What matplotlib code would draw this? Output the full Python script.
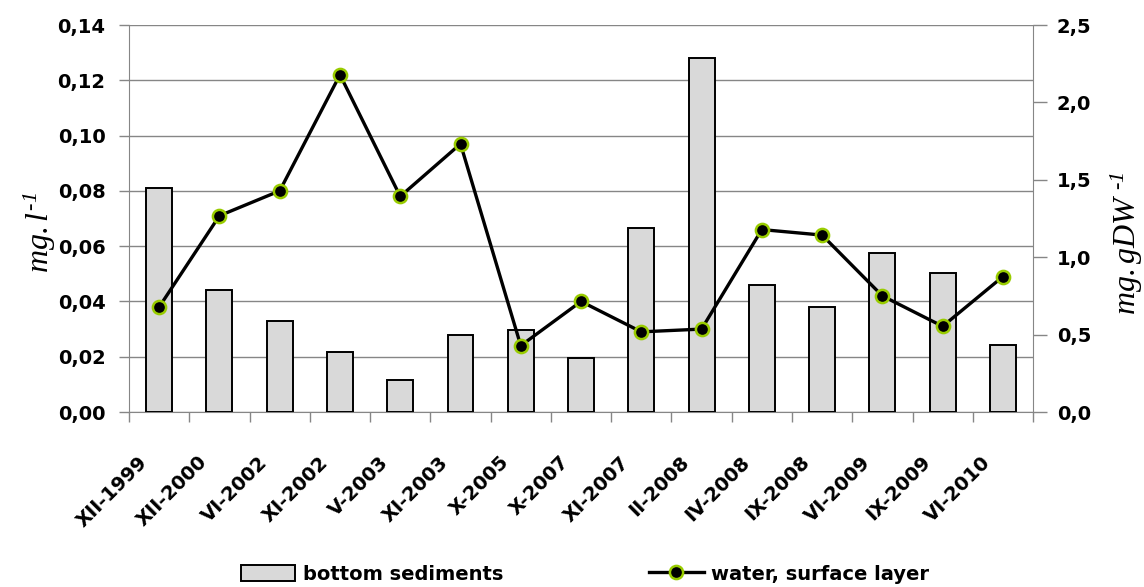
import matplotlib
matplotlib.use('Agg')
import matplotlib.pyplot as plt
import matplotlib.transforms as mtransforms
from matplotlib.ticker import FuncFormatter, MultipleLocator

# sampling dates (roman month - year)
dates = ['XII-1999', 'XII-2000', 'VI-2002', 'XI-2002', 'V-2003', 'XI-2003', 'X-2005',
         'X-2007', 'XI-2007', 'II-2008', 'IV-2008', 'IX-2008', 'VI-2009', 'IX-2009', 'VI-2010']

# bottom sediments, mg/gDW (right axis)
sediments = [1.45, 0.79, 0.59, 0.39, 0.21, 0.50, 0.53, 0.35, 1.19, 2.29, 0.82, 0.68, 1.03, 0.90, 0.43]

# water surface layer, mg/l (left axis)
water = [0.038, 0.071, 0.080, 0.122, 0.078, 0.097, 0.024, 0.040, 0.029, 0.030,
         0.066, 0.064, 0.042, 0.031, 0.049]

plt.rcParams['font.family'] = 'DejaVu Sans'
plt.rcParams['font.weight'] = 'bold'
plt.rcParams['mathtext.fontset'] = 'custom'
plt.rcParams['mathtext.it'] = 'Liberation Serif:style=italic:weight=normal'
plt.rcParams['mathtext.rm'] = 'Liberation Serif:style=italic:weight=normal'

grey = '#868686'
fsize = 14

fig = plt.figure(figsize=(11.44, 5.87), dpi=100)
ax = fig.add_axes([0.1128, 0.2981, 0.7902, 0.6593])
ax2 = ax.twinx()   # bars on the right scale
ax3 = ax.twinx()   # line on the left scale, drawn on top

x = list(range(len(dates)))

bars = ax2.bar(x, sediments, width=0.43, color='#d9d9d9', edgecolor='black',
               linewidth=1.4, label='bottom sediments')
line, = ax3.plot(x, water, color='black', lw=2.4, marker='o', ms=9.5,
                 mfc='black', mec='#99cc00', mew=1.8, label='water, surface layer')

ax.set_xlim(-0.5, len(dates) - 0.5)
ax.set_ylim(0, 0.14)
ax3.set_ylim(0, 0.14)
ax2.set_ylim(0, 2.5)

# left axis
ax.yaxis.set_major_locator(MultipleLocator(0.02))
ax.yaxis.set_major_formatter(FuncFormatter(lambda v, p: ('%.2f' % v).replace('.', ',')))
ax.yaxis.grid(True, color=grey, lw=1)
ax.set_axisbelow(True)
ax.tick_params(axis='y', length=7, width=1, color=grey, pad=10, labelsize=fsize)

# right axis
ax2.yaxis.set_major_locator(MultipleLocator(0.5))
ax2.yaxis.set_major_formatter(FuncFormatter(lambda v, p: ('%.1f' % v).replace('.', ',')))
ax2.tick_params(axis='y', length=10, width=1, color=grey, pad=7, labelsize=fsize)

ax3.set_yticks([])
for s in ax3.spines.values():
    s.set_visible(False)

for s in ['top', 'right']:
    ax.spines[s].set_visible(False)
for s in ['top', 'left', 'bottom']:
    ax2.spines[s].set_visible(False)
ax.spines['left'].set_color(grey)
ax.spines['bottom'].set_color(grey)
ax2.spines['right'].set_color(grey)

# x axis: labels at the bars, tick marks between categories
ax.set_xticks(x)
ax.set_xticklabels(dates, rotation=45, ha='right', va='center', rotation_mode='anchor')
ax.set_xticks([i - 0.5 for i in range(len(dates) + 1)], minor=True)
ax.tick_params(axis='x', which='major', length=0, pad=34, labelsize=fsize)
ax.tick_params(axis='x', which='minor', length=7, width=1, color=grey)
shift = mtransforms.ScaledTranslation(-0.15, 0, fig.dpi_scale_trans)
for lab in ax.get_xticklabels():
    lab.set_transform(lab.get_transform() + shift)

# axis titles
fig.text(40 / 1144, 1 - 232 / 587, r'$mg.l^{\text{-}1}$', rotation=90, ha='center', va='center',
         fontsize=23, fontweight='normal')
fig.text(1127 / 1144, 1 - 243 / 587, r'$mg.gDW\ {}^{\text{-}1}$', rotation=90, ha='center', va='center',
         fontsize=23, fontweight='normal')

fig.legend([bars, line], ['bottom sediments', 'water, surface layer'], loc='center',
           bbox_to_anchor=(585 / 1144, 1 - 574 / 587), ncol=2, frameon=False, fontsize=fsize,
           handlelength=2.8, handleheight=0.9, handletextpad=0.4, columnspacing=7.5)

fig.savefig('out.png', dpi=100)
